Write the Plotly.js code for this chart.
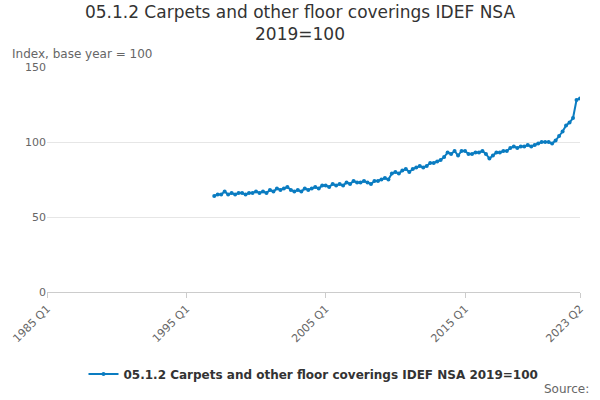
<!DOCTYPE html>
<html>
<head>
<meta charset="utf-8">
<script src="https://cdn.plot.ly/plotly-3.0.1.min.js"></script>
<style>body{margin:0}#chart{width:600px;height:400px}</style>
</head>
<body>
<div id="chart"></div>
<script>
// quarterly index values, 1997 Q1 to 2023 Q2
var values = [
  64, 65, 65, 67,   65, 66, 65, 66,   66, 65, 66, 66,   67, 66, 67, 66,
  68, 67, 69, 68,   69, 70, 68, 67,   68, 67, 69, 68,   69, 70, 69, 71,
  71, 70, 72, 71,   72, 71, 73, 72,   74, 73, 73, 74,   73, 72, 74, 74,
  75, 76, 75, 79,   80, 79, 81, 82,   80, 82, 83, 84,   83, 84, 86, 86,
  87, 88, 90, 93,   92, 94, 91, 94,   94, 92, 92, 93,   93, 94, 92, 89,
  91, 93, 93, 94,   94, 96, 97, 96,   97, 97, 98, 97,   98, 99, 100, 100,
  100, 99, 101, 104, 107, 111, 113, 116, 118, 121, 128, 129
].slice(0, 106);
var firstYear = 1985;
var dataStartYear = 1997;
var tickLabels = ["1985 Q1", "1995 Q1", "2005 Q1", "2015 Q1", "2023 Q2"];
var seriesName = "05.1.2 Carpets and other floor coverings IDEF NSA 2019=100";

var quarters = [];
var y = [];
for (var yr = firstYear; yr <= 2023; yr++) {
  for (var q = 1; q <= 4; q++) {
    if (yr == 2023 && q > 2) break;
    quarters.push(yr + " Q" + q);
    var idx = (yr - dataStartYear) * 4 + (q - 1);
    y.push(idx >= 0 ? values[idx] : null);
  }
}
// keep the last two readings on the final quarters
y[y.length - 2] = 128;
y[y.length - 1] = 129;

var trace = {
  x: quarters,
  y: y,
  name: seriesName,
  mode: "lines+markers",
  line: {color: "#0a7cc1", width: 2},
  marker: {color: "#0a7cc1", size: 4}
};

var layout = {
  width: 600,
  height: 400,
  font: {family: "DejaVu Sans", color: "#444"},
  title: {text: "05.1.2 Carpets and other floor coverings IDEF NSA<br>2019=100", font: {size: 17, color: "#333"}, x: 0.5, y: 0.955},
  margin: {l: 47, r: 20, t: 67, b: 103},
  xaxis: {
    type: "category",
    tickmode: "array",
    tickvals: tickLabels,
    ticktext: tickLabels,
    tickangle: -45,
    ticks: "outside",
    ticklen: 5,
    tickcolor: "#ccc",
    showgrid: false,
    showline: true,
    linecolor: "#ccc",
    tickfont: {size: 11, color: "#666"},
    range: [0, quarters.length - 1]
  },
  yaxis: {
    range: [0, 150],
    tickvals: [0, 50, 100, 150],
    gridcolor: "#e6e6e6",
    zeroline: false,
    tickfont: {size: 11, color: "#666"}
  },
  showlegend: true,
  legend: {orientation: "h", x: 0.5, xanchor: "center", y: -0.3, yanchor: "top", font: {size: 12, color: "#333", weight: "bold"}},
  annotations: [
    {text: "Index, base year = 100", xref: "paper", yref: "paper", x: -0.07, y: 1.02, xanchor: "left", yanchor: "bottom", showarrow: false, font: {size: 12, color: "#666"}},
    {text: "Source:", xref: "paper", yref: "paper", x: 1.02, y: -0.39, xanchor: "right", yanchor: "top", showarrow: false, font: {size: 12, color: "#666"}}
  ]
};

Plotly.newPlot("chart", [trace], layout, {displayModeBar: false});
</script>
</body>
</html>
